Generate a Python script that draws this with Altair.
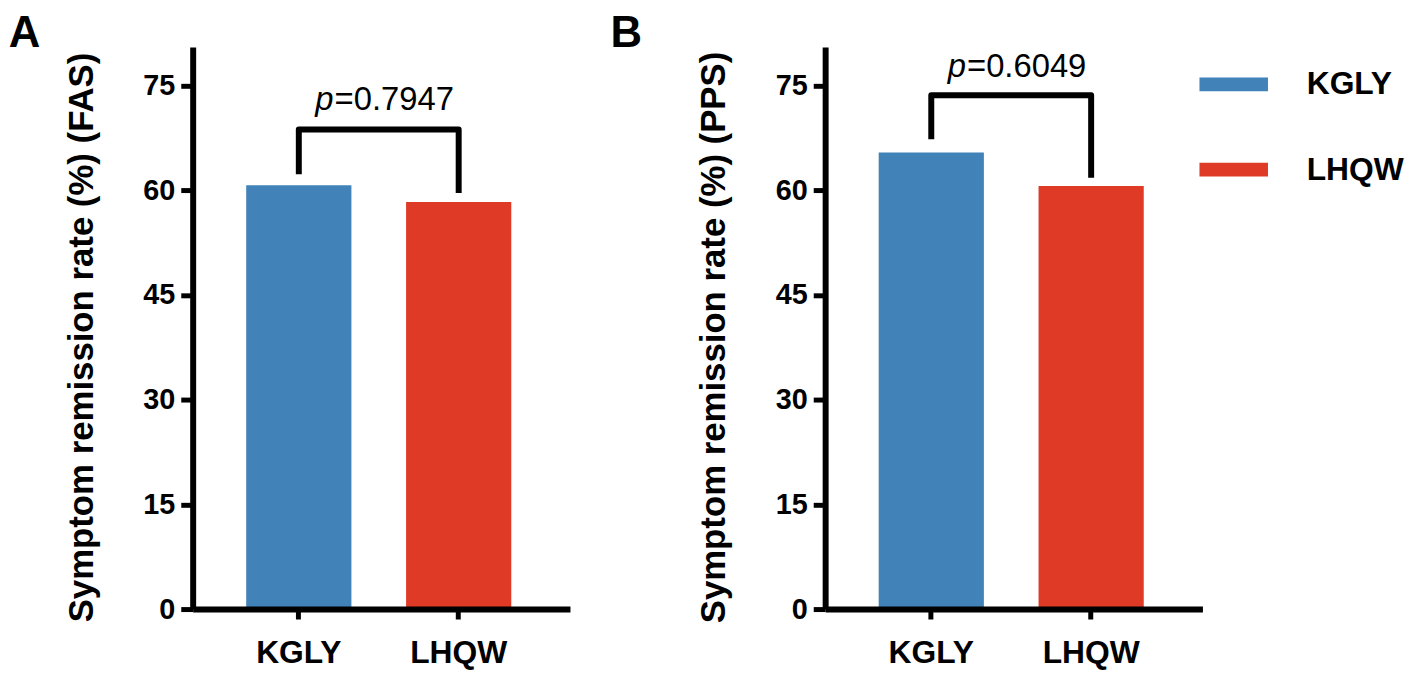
import altair as alt
import pandas as pd

groups = ["KGLY", "LHQW"]
fas_rates = [60.7, 58.3]
pps_rates = [65.4, 60.6]
# bracket: [top, left leg bottom, right leg bottom]
fas_bracket = [68.7, 62.3, 59.6]
pps_bracket = [73.6, 67.3, 61.8]
p_values = ["=0.7947", "=0.6049"]
p_text_y = [71.5, 76.2]
colors = ["#4182b9", "#de3a26"]
panel_letters = ["A", "B"]
y_titles = ["Symptom remission rate (%) (FAS)", "Symptom remission rate (%) (PPS)"]
y_ticks = [0, 15, 30, 45, 60, 75]
y_max = 80.5

FONT = "Liberation Sans"


def panel(rates, bracket, ptxt, pty, letter, ytitle, show_legend, letter_dx):
    xscale = alt.Scale(domain=groups, paddingInner=0.342, paddingOuter=0.351, align=0.477)
    yscale = alt.Scale(domain=[0, y_max], nice=False)
    bars_df = pd.DataFrame({"group": groups, "rate": rates})
    if show_legend:
        legend = alt.Legend(
            orient="none", legendX=1014, legendY=3, title=None,
            symbolType="M-1,-0.2H1V0.2H-1Z", symbolSize=4761, symbolStrokeWidth=0,
            symbolOpacity=1, labelFont=FONT, labelFontSize=32, labelFontWeight="bold",
            labelColor="black", labelOffset=39, rowPadding=35, padding=0,
        )
    else:
        legend = None
    bars = alt.Chart(bars_df).mark_bar(opacity=1).encode(
        x=alt.X("group:N", scale=xscale, sort=groups, axis=alt.Axis(
            title=None, labelAngle=0, domainWidth=6, domainColor="black",
            tickWidth=5, tickColor="black", tickSize=10, labelFont=FONT,
            labelFontSize=32, labelFontWeight="bold", labelColor="black",
            labelBaseline="alphabetic", labelPadding=44, zindex=1)),
        y=alt.Y("rate:Q", scale=yscale, axis=alt.Axis(
            values=y_ticks, title=ytitle, grid=False, domainWidth=6,
            domainColor="black", tickWidth=5, tickColor="black", tickSize=12,
            labelFont=FONT, labelFontSize=29, labelFontWeight="bold",
            labelColor="black", labelPadding=6, titleFont=FONT,
            titleFontSize=35, titleFontWeight="bold", titleColor="black",
            titlePadding=44, titleY=292, zindex=1)),
        color=alt.Color("group:N", scale=alt.Scale(domain=groups, range=colors), legend=legend),
    )
    br_df = pd.DataFrame({
        "group": [groups[0], groups[0], groups[1], groups[1]],
        "v": [bracket[1], bracket[0], bracket[0], bracket[2]],
        "ord": [0, 1, 2, 3],
    })
    br = alt.Chart(br_df).mark_line(color="black", strokeWidth=6, strokeJoin="round").encode(
        x=alt.X("group:N", scale=xscale, sort=groups),
        y=alt.Y("v:Q", scale=yscale),
        order="ord:Q",
    )
    t_df = pd.DataFrame({"group": [groups[0]], "y": [pty], "p": ["p"], "rest": [ptxt]})
    t_p = alt.Chart(t_df).mark_text(
        font=FONT, fontSize=33, fontStyle="italic", align="right", baseline="alphabetic",
        dx=35, color="black").encode(
        x=alt.X("group:N", scale=xscale, sort=groups),
        y=alt.Y("y:Q", scale=yscale), text="p:N")
    t_rest = alt.Chart(t_df).mark_text(
        font=FONT, fontSize=33, align="left", baseline="alphabetic",
        dx=36, color="black").encode(
        x=alt.X("group:N", scale=xscale, sort=groups),
        y=alt.Y("y:Q", scale=yscale), text="rest:N")
    return alt.layer(bars, br, t_p, t_rest).properties(
        width=380, height=566,
        title=alt.TitleParams(letter, anchor="start", frame="bounds", font=FONT,
                              fontSize=44, fontWeight="bold", color="black",
                              dx=letter_dx, offset=-44, baseline="alphabetic"),
    )


pa = panel(fas_rates, fas_bracket, p_values[0], p_text_y[0], panel_letters[0], y_titles[0], True, -56)
pb = panel(pps_rates, pps_bracket, p_values[1], p_text_y[1], panel_letters[1], y_titles[1], False, -87)

chart = alt.hconcat(pa, pb, spacing=40).properties(
    padding={"left": 0, "right": 0, "top": 2, "bottom": 0}, background="white"
).configure_view(stroke=None)

chart.save("out.html", embed_options={"renderer": "svg", "actions": False})
